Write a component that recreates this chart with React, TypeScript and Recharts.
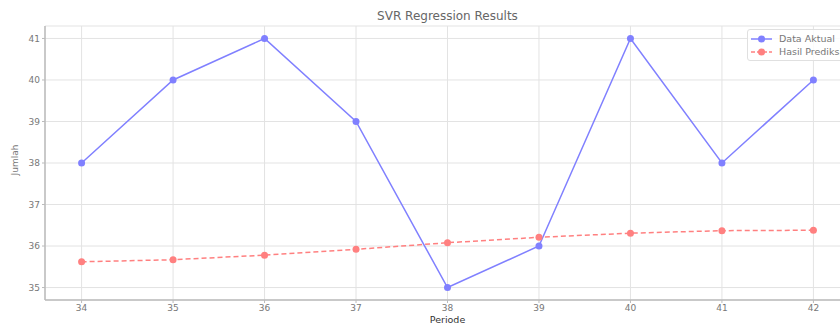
import React from "react";
import {
  LineChart,
  Line,
  XAxis,
  YAxis,
  CartesianGrid,
} from "recharts";

const periods = [34, 35, 36, 37, 38, 39, 40, 41, 42];
const actualValues = [38, 40, 41, 39, 35, 36, 41, 38, 40];
const predictedValues = [35.62, 35.67, 35.78, 35.92, 36.08, 36.21, 36.31, 36.37, 36.38];
const xTicks = [34, 35, 36, 37, 38, 39, 40, 41, 42];
const yTicks = [35, 36, 37, 38, 39, 40, 41];
const seriesNames = ["Data Aktual", "Hasil Prediksi"];

const data = periods.map((p, i) => ({
  periode: p,
  actual: actualValues[i],
  predicted: predictedValues[i],
}));

const FONT = "DejaVu Sans, sans-serif";
const BLUE = "#8080ff";
const RED = "#ff8080";

const LegendBox = () => (
  <div
    style={{
      position: "absolute",
      left: 747,
      top: 29,
      border: "1px solid #e0e0e0",
      borderRadius: 3,
      background: "rgba(255,255,255,0.85)",
      padding: "2px 6px 2px 2px",
      fontFamily: FONT,
      fontSize: 9.5,
      color: "#777",
      whiteSpace: "nowrap",
      zIndex: 2,
    }}
  >
    {[
      { label: seriesNames[0], color: BLUE, dash: undefined },
      { label: seriesNames[1], color: RED, dash: "4 2" },
    ].map((it) => (
      <div key={it.label} style={{ display: "flex", alignItems: "center", height: 13 }}>
        <svg width={24} height={10} style={{ marginRight: 5 }}>
          <line x1={1} y1={5} x2={22} y2={5} stroke={it.color} strokeWidth={1.5} strokeDasharray={it.dash} />
          <circle cx={11.5} cy={5} r={3.5} fill={it.color} />
        </svg>
        <span>{it.label}</span>
      </div>
    ))}
  </div>
);

export default function App() {
  return (
    <div
      style={{
        position: "fixed",
        left: 0,
        top: 0,
        width: 840,
        height: 324,
        overflow: "hidden",
        background: "#fff",
      }}
    >
      <div
        style={{
          position: "absolute",
          left: 0,
          top: 9,
          width: 895,
          textAlign: "center",
          fontFamily: FONT,
          fontSize: 12,
          color: "#666",
        }}
      >
        SVR Regression Results
      </div>
      <div
        style={{
          position: "absolute",
          left: 15,
          top: 160,
          transform: "translate(-50%, -50%) rotate(-90deg)",
          fontFamily: FONT,
          fontSize: 9,
          color: "#777",
        }}
      >
        Jumlah
      </div>
      <div
        style={{
          position: "absolute",
          left: 0,
          top: 314,
          width: 895,
          textAlign: "center",
          fontFamily: FONT,
          fontSize: 9.5,
          color: "#333",
        }}
      >
        Periode
      </div>
      <LineChart
        width={870}
        height={330}
        data={data}
        margin={{ top: 26, right: 20, bottom: 0, left: 0 }}
        style={{ position: "absolute", left: 0, top: 0 }}
      >
        <CartesianGrid stroke="#e3e3e3" strokeWidth={1} />
        <XAxis
          dataKey="periode"
          type="number"
          domain={[33.6, 42.4]}
          ticks={xTicks}
          height={30}
          tick={{ fontSize: 9, fill: "#777", fontFamily: FONT }}
          tickSize={3}
          axisLine={{ stroke: "#bbb", strokeWidth: 1.5 }}
          tickLine={{ stroke: "#bbb" }}
        />
        <XAxis
          xAxisId="top"
          dataKey="periode"
          type="number"
          domain={[33.6, 42.4]}
          orientation="top"
          height={0}
          tick={false}
          tickLine={false}
          axisLine={{ stroke: "#bbb", strokeWidth: 1.5 }}
        />
        <YAxis
          type="number"
          domain={[34.7, 41.3]}
          ticks={yTicks}
          width={45}
          tick={{ fontSize: 9, fill: "#777", fontFamily: FONT }}
          tickSize={3}
          axisLine={{ stroke: "#bbb", strokeWidth: 1.5 }}
          tickLine={{ stroke: "#bbb" }}
        />
        <Line
          dataKey="actual"
          name={seriesNames[0]}
          stroke={BLUE}
          strokeWidth={1.5}
          dot={{ r: 3.5, fill: BLUE, stroke: BLUE, strokeWidth: 0 }}
          activeDot={false}
          isAnimationActive={false}
        />
        <Line
          dataKey="predicted"
          name={seriesNames[1]}
          stroke={RED}
          strokeWidth={1.5}
          strokeDasharray="5 3"
          dot={{ r: 3.5, fill: RED, stroke: RED, strokeWidth: 0 }}
          activeDot={false}
          isAnimationActive={false}
        />
      </LineChart>
      <LegendBox />
    </div>
  );
}
